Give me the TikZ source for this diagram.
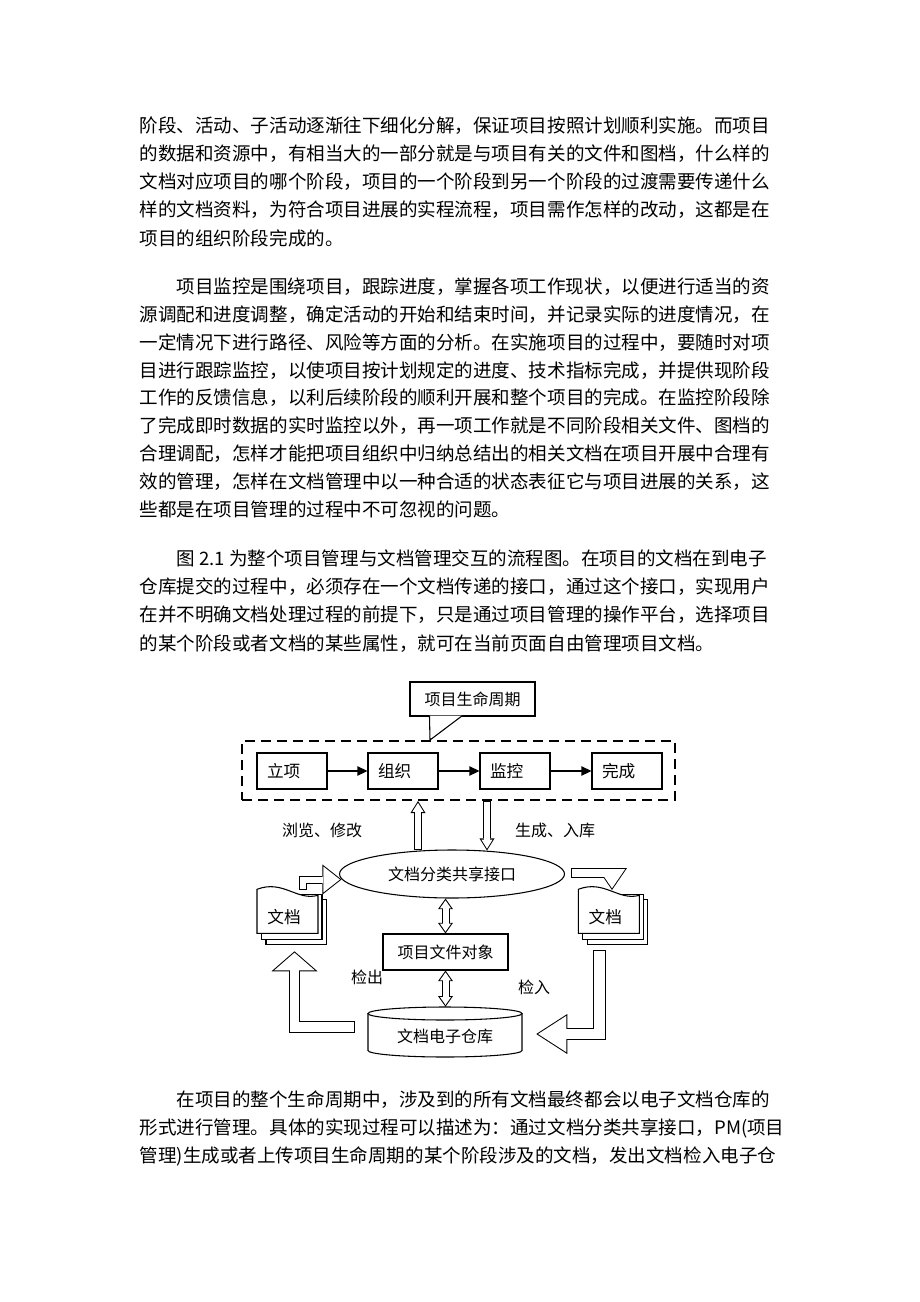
\documentclass[tikz,border=0pt]{standalone}
\usepackage{fontspec}
\setmainfont{Noto Sans CJK SC}
\usetikzlibrary{arrows.meta,shapes.geometric,calc}

\newcommand{\bodyfont}{\fontsize{13.9pt}{17pt}\selectfont}
\newcommand{\diagfont}{\fontsize{12pt}{14pt}\selectfont}

\tikzset{
  bodyline/.style={anchor=west, inner sep=0pt, font=\bodyfont},
  lbl/.style={inner sep=0pt, font=\diagfont},
  plainbox/.style={draw, line width=0.8pt, inner sep=0pt, font=\diagfont},
  stagebox/.style={draw, line width=0.8pt, minimum height=27pt, text width=37.5pt,
    inner xsep=7.5pt, align=left, font=\fontsize{12.5pt}{14pt}\selectfont},
  stagearrow/.style={line width=0.8pt, -{Triangle[length=7.5pt,width=7pt]}},
  % hollow arrow: outer shaft, head width, head length, inner shaft, inner width, inner length, shift
  hollow/.style n args={7}{line width=#1, -{Triangle[length=#3,width=#2,line width=0pt 0 0]},
    postaction={draw=white, line width=#4, -{Triangle[length=#6,width=#5,line width=0pt 0 0]},
      shorten >=#7, shorten <=0.75pt}},
  hollowboth/.style n args={7}{line width=#1,
    {Triangle[length=#3,width=#2,line width=0pt 0 0]}-{Triangle[length=#3,width=#2,line width=0pt 0 0]},
    postaction={draw=white, line width=#4,
      {Triangle[length=#6,width=#5,line width=0pt 0 0]}-{Triangle[length=#6,width=#5,line width=0pt 0 0]},
      shorten >=#7, shorten <=#7}},
  docstack/.pic={
    \draw[fill=white, line width=0.8pt] (9,-11.6) rectangle (69.5,34);
    \draw[fill=white, line width=0.8pt] (4.5,-6) rectangle (65,39);
    \draw[fill=white, line width=0.8pt] (0,0) -- (61,0) -- (61,38) .. controls (40,32) and (26,54) .. (0,44) -- cycle;
    \draw (27,16) node [lbl, font=\fontsize{12.5pt}{14pt}\selectfont] (-txt) {文档};
  }
}

\begin{document}
\begin{tikzpicture}[x=0.75pt,y=0.75pt,yscale=-1,xscale=1]
\useasboundingbox (0,0) rectangle (920,1302);

% Text Node -- paragraph 1
\draw (139.5,126) node [bodyline] (pa1) {阶段、活动、子活动逐渐往下细化分解，保证项目按照计划顺利实施。而项目};
\draw (139.5,154) node [bodyline] (pa2) {的数据和资源中，有相当大的一部分就是与项目有关的文件和图档，什么样的};
\draw (139.5,182) node [bodyline] (pa3) {文档对应项目的哪个阶段，项目的一个阶段到另一个阶段的过渡需要传递什么};
\draw (139.5,210) node [bodyline] (pa4) {样的文档资料，为符合项目进展的实程流程，项目需作怎样的改动，这都是在};
\draw (139.5,238) node [bodyline] (pa5) {项目的组织阶段完成的。};

% Text Node -- paragraph 2
\draw (176.5,286.5) node [bodyline] (pb1) {项目监控是围绕项目，跟踪进度，掌握各项工作现状，以便进行适当的资};
\draw (139.5,314.4) node [bodyline] (pb2) {源调配和进度调整，确定活动的开始和结束时间，并记录实际的进度情况，在};
\draw (139.5,342.3) node [bodyline] (pb3) {一定情况下进行路径、风险等方面的分析。在实施项目的过程中，要随时对项};
\draw (139.5,370.2) node [bodyline] (pb4) {目进行跟踪监控，以使项目按计划规定的进度、技术指标完成，并提供现阶段};
\draw (139.5,398.1) node [bodyline] (pb5) {工作的反馈信息，以利后续阶段的顺利开展和整个项目的完成。在监控阶段除};
\draw (139.5,426) node [bodyline] (pb6) {了完成即时数据的实时监控以外，再一项工作就是不同阶段相关文件、图档的};
\draw (139.5,453.9) node [bodyline] (pb7) {合理调配，怎样才能把项目组织中归纳总结出的相关文档在项目开展中合理有};
\draw (139.5,481.8) node [bodyline] (pb8) {效的管理，怎样在文档管理中以一种合适的状态表征它与项目进展的关系，这};
\draw (139.5,509.7) node [bodyline] (pb9) {些都是在项目管理的过程中不可忽视的问题。};

% Text Node -- paragraph 3
\draw (176.5,558.5) node [bodyline] (pc1) {图 2.1 为整个项目管理与文档管理交互的流程图。在项目的文档在到电子};
\draw (139.5,586.8) node [bodyline] (pc2) {仓库提交的过程中，必须存在一个文档传递的接口，通过这个接口，实现用户};
\draw (139.5,615.1) node [bodyline] (pc3) {在并不明确文档处理过程的前提下，只是通过项目管理的操作平台，选择项目};
\draw (139.5,643.4) node [bodyline] (pc4) {的某个阶段或者文档的某些属性，就可在当前页面自由管理项目文档。};

% Text Node -- paragraph 4
\draw (176.5,1100) node [bodyline] (pd1) {在项目的整个生命周期中，涉及到的所有文档最终都会以电子文档仓库的};
\draw (139.5,1128) node [bodyline] (pd2) {形式进行管理。具体的实现过程可以描述为：通过文档分类共享接口，PM(项目};
\draw (139.5,1156) node [bodyline] (pd3) {管理)生成或者上传项目生命周期的某个阶段涉及的文档，发出文档检入电子仓};

%Life cycle frame and stages
\draw (458.5,770.5) node [draw, line width=1.5pt, dash pattern=on 7.5pt off 4.5pt, minimum width=324.75pt, minimum height=44.25pt] (lifeframe) {};
\draw (292,771) node [stagebox] (lixiang) {立项};
\draw (403,771) node [stagebox] (zuzhi) {组织};
\draw (515,771) node [stagebox] (jiankong) {监控};
\draw (627,771) node [stagebox] (wancheng) {完成};
\draw [stagearrow] (lixiang) -- (zuzhi);
\draw [stagearrow] (zuzhi) -- (jiankong);
\draw [stagearrow] (jiankong) -- (wancheng);

%Callout
\draw (472.5,699) node [plainbox, minimum width=93.75pt, minimum height=25.5pt] (lifecycle) {项目生命周期};
\draw [fill=white, line width=0.8pt] ($(lifecycle.south west)+(20,-1)$) -- ($(lifeframe.north west)+(189,0)$) -- ($(lifecycle.south west)+(53,-1)$);

%Interface
\draw (452,874) node [ellipse, draw, line width=0.8pt, minimum width=168.75pt, minimum height=36pt, inner sep=0pt, font=\diagfont] (iface) {文档分类共享接口};
\draw [hollow={6.4pt}{11.25pt}{9pt}{4.9pt}{8.5pt}{6.8pt}{1.4pt}] ($(iface.north)+(-34,1)$) -- ($(lifeframe.south)+(-40.5,0)$);
\draw [hollow={6.4pt}{11.25pt}{9pt}{4.9pt}{8.5pt}{6.8pt}{1.4pt}] ($(lifeframe.south)+(28.5,0)$) -- ($(iface.north)+(35,1)$);
\draw (322,830) node [lbl] (browse) {浏览、修改};
\draw (555,830) node [lbl] (generate) {生成、入库};

%File object and store
\draw (445.5,952) node [plainbox, minimum width=93.75pt, minimum height=27pt] (fileobj) {项目文件对象};
\draw [line width=0.8pt] (368,1013.5) -- (368,1050.5) arc [start angle=180, end angle=0, x radius=77, y radius=6.5] -- (522,1013.5);
\draw [line width=0.8pt] (445,1013.5) ellipse [x radius=77, y radius=6.5];
\draw (445,1036) node [lbl, minimum width=115.5pt, minimum height=43.5pt] (store) {文档电子仓库};
\draw [hollowboth={6pt}{11.25pt}{8pt}{4.5pt}{8.3pt}{5.9pt}{1.4pt}] (fileobj.north |- iface.south) -- (fileobj.north);
\draw [hollowboth={6pt}{11.25pt}{8pt}{4.5pt}{8.3pt}{5.9pt}{1.4pt}] (fileobj.south) -- (fileobj.south |- store.north);
\draw (367,977) node [lbl] (checkout) {检出};
\draw (534,987) node [lbl] (checkin) {检入};

%Documents
\pic (ldoc) at (257,933.3) {docstack};
\pic (rdoc) at (578.3,933.3) {docstack};

%Bent arrows
\draw [hollow={6pt}{22.5pt}{14.25pt}{4.5pt}{19.4pt}{12.3pt}{1.2pt}] ($(ldoc-txt)+(18.5,-27.3)$) |- ($(iface.west)+(2.5,5.5)$);
\draw [hollow={7.5pt}{22.5pt}{16.5pt}{6pt}{19.7pt}{14.4pt}{1.3pt}] ($(iface.east)+(6,-1)$) -| ($(rdoc-txt)+(6.7,-27.3)$);
\draw [hollow={8.3pt}{34.5pt}{15pt}{6.8pt}{30.5pt}{13.3pt}{1pt}] ($(store.west)+(-13,-9)$) -| ($(ldoc-txt)+(10.5,34)$);
\draw [hollow={9.4pt}{30pt}{23.25pt}{7.9pt}{27.2pt}{21.1pt}{1.4pt}] ($(rdoc-txt)+(-5.8,33)$) |- ($(store.east)+(14,-2)$);

\end{tikzpicture}
\end{document}
